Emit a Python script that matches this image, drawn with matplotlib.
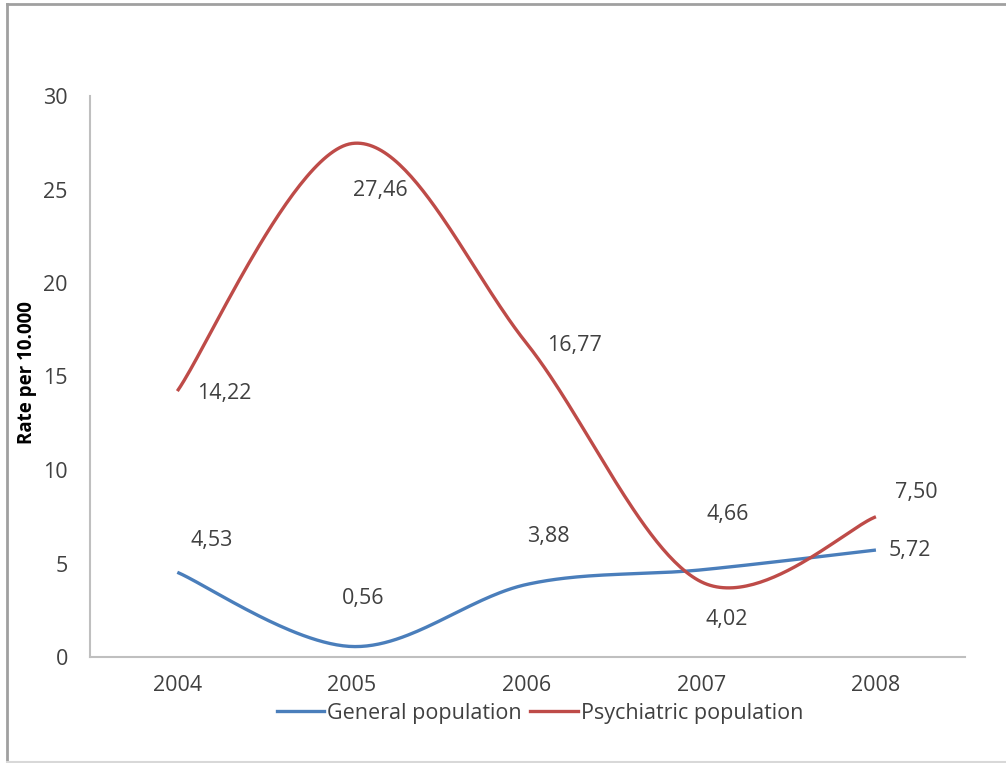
import numpy as np
import matplotlib
matplotlib.use("Agg")
import matplotlib.pyplot as plt
from matplotlib.lines import Line2D

years = [2004, 2005, 2006, 2007, 2008]
general = [4.53, 0.56, 3.88, 4.66, 5.72]
psychiatric = [14.22, 27.46, 16.77, 4.02, 7.50]
general_labels = ["4,53", "0,56", "3,88", "4,66", "5,72"]
psychiatric_labels = ["14,22", "27,46", "16,77", "4,02", "7,50"]
yticks = [0, 5, 10, 15, 20, 25, 30]
series_names = ["General population", "Psychiatric population"]

# label offsets (pixels) relative to data point
gen_off = [(34, 32), (11, 48), (22, 48), (26, 55), (34, 0)]
psy_off = [(47, -2), (28, -47), (48, -2), (25, -38), (40, 24)]

BLUE = "#4a7ebb"
RED = "#be4b48"
TXT = "#404040"
FONT = ["Open Sans", "DejaVu Sans"]
plt.rcParams["font.family"] = FONT
FS = 15.5


def smooth(xs, ys, n=60):
    xs = np.asarray(xs, float)
    ys = np.asarray(ys, float)
    P = np.column_stack([xs, ys])
    pts = []
    m = len(P)
    for i in range(m - 1):
        p0 = P[i - 1] if i > 0 else P[i]
        p1 = P[i]
        p2 = P[i + 1]
        p3 = P[i + 2] if i + 2 < m else P[i + 1]
        c1 = p1 + (p2 - p0) / 6.0
        c2 = p2 - (p3 - p1) / 6.0
        t = np.linspace(0, 1, n)[:, None]
        seg = ((1 - t) ** 3) * p1 + 3 * ((1 - t) ** 2) * t * c1 + 3 * (1 - t) * t ** 2 * c2 + t ** 3 * p2
        pts.append(seg if i == 0 else seg[1:])
    pts = np.vstack(pts)
    return pts[:, 0], pts[:, 1]


fig = plt.figure(figsize=(10.06, 7.63), dpi=100)
ax = fig.add_axes([90 / 1006, 1 - 657 / 763, (965 - 90) / 1006, (657 - 96) / 763])

gx, gy = smooth(years, general)
px, py = smooth(years, psychiatric)
ax.plot(gx, gy, color=BLUE, lw=2.4, solid_capstyle="butt")
ax.plot(px, py, color=RED, lw=2.4, solid_capstyle="butt")

for x, y, lab, off in zip(years, general, general_labels, gen_off):
    ax.annotate(lab, (x, y), xytext=(off[0] * 0.72, off[1] * 0.72), textcoords="offset points",
                ha="center", va="center", fontsize=FS, color=TXT)
for x, y, lab, off in zip(years, psychiatric, psychiatric_labels, psy_off):
    ax.annotate(lab, (x, y), xytext=(off[0] * 0.72, off[1] * 0.72), textcoords="offset points",
                ha="center", va="center", fontsize=FS, color=TXT)

ax.set_xlim(2003.5, 2008.51)
ax.set_ylim(0, 30)
ax.set_xticks(years)
ax.set_xticklabels([str(y) for y in years])
ax.set_yticks(yticks)
ax.tick_params(axis="both", length=0, labelsize=FS, labelcolor=TXT)
ax.tick_params(axis="y", pad=16)
ax.tick_params(axis="x", pad=13)
for s in ["top", "right"]:
    ax.spines[s].set_visible(False)
for s in ["left", "bottom"]:
    ax.spines[s].set_color("#bfbfbf")
    ax.spines[s].set_linewidth(1.5)

fig.text(27 / 1006, 1 - 373 / 763, "Rate per 10.000", rotation=90, ha="center", va="center",
         fontsize=13.5, fontweight="bold", color="black")

handles = [Line2D([], [], color=BLUE, lw=2.4), Line2D([], [], color=RED, lw=2.4)]
fig.legend(handles, series_names, loc="center", bbox_to_anchor=(540 / 1006, 1 - 713 / 763),
           ncol=2, frameon=False, fontsize=FS, handlelength=2.2, handletextpad=0.15,
           columnspacing=0.4, labelcolor=TXT)

# outer frame
fig.add_artist(Line2D([7 / 1006, 7 / 1006], [0, 1 - 4 / 763], color="#a0a0a0", lw=2))
fig.add_artist(Line2D([7 / 1006, 1], [1 - 4 / 763, 1 - 4 / 763], color="#a0a0a0", lw=2))
fig.add_artist(Line2D([7 / 1006, 1], [1 / 763, 1 / 763], color="#d8d8d8", lw=1.5))

fig.savefig("out.png", dpi=100)
